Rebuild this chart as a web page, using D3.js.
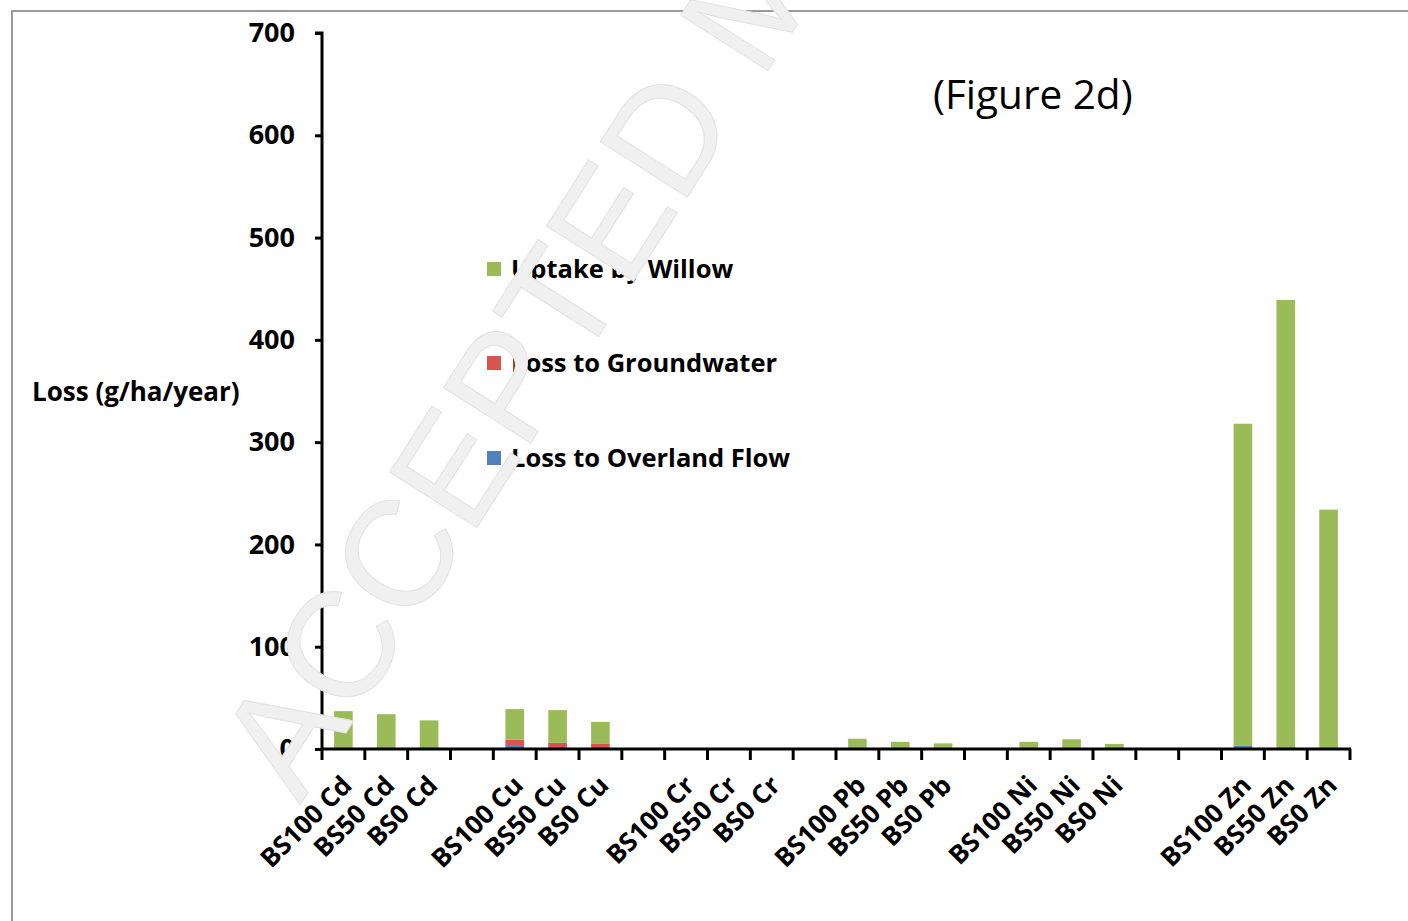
<!DOCTYPE html>
<html><head><meta charset="utf-8">
<script src="https://cdn.jsdelivr.net/npm/d3@7"></script>
<style>body{margin:0;background:#fff}svg{display:block}</style>
</head><body>
<svg id="c" width="1408" height="921"></svg>
<script>
const categories = ["BS100 Cd","BS50 Cd","BS0 Cd","",
  "BS100 Cu","BS50 Cu","BS0 Cu","",
  "BS100 Cr","BS50 Cr","BS0 Cr","",
  "BS100 Pb","BS50 Pb","BS0 Pb","",
  "BS100 Ni","BS50 Ni","BS0 Ni","","",
  "BS100 Zn","BS50 Zn","BS0 Zn"];
const uptake      = [37,34,28,0, 30,32,21,0, 0,1,0,0, 10,7,5.5,0, 7,9.5,5,0,0, 315,439,234];
const groundwater = [0,0,0,0, 6,5,4.5,0, 0,0,0,0, 0,0,0,0, 0,0,0,0,0, 0,0,0];
const overland    = [0,0,0,0, 3,1,1,0, 0,0,0,0, 0,0,0,0, 0,0,0,0,0, 3,0,0];
const seriesNames = ["Uptake by Willow","Loss to Groundwater","Loss to Overland Flow"];
const seriesColors = ["#9BBB59","#D9534F","#4F81BD"];
const yTicks = [0,100,200,300,400,500,600,700];

const svg = d3.select("#c");
const FONT = "'Open Sans', Lato, sans-serif";

// outer border
svg.append("rect").attr("x",12).attr("y",11).attr("width",1420).attr("height",940)
  .attr("fill","none").attr("stroke","#9a9a9a").attr("stroke-width",2);

const x = d3.scaleBand().domain(d3.range(categories.length)).range([322,1350]).paddingInner(0.565).paddingOuter(0.2825);
const xb = d3.scaleBand().domain(d3.range(categories.length)).range([322,1350]);
const y = d3.scaleLinear().domain([0,700]).range([749,33]);

const rows = categories.map((c,i)=>({i, overland:overland[i], groundwater:groundwater[i], uptake:uptake[i]}));
const stack = d3.stack().keys(["overland","groundwater","uptake"])(rows);
const colorByKey = {uptake:seriesColors[0], groundwater:seriesColors[1], overland:seriesColors[2]};

svg.append("g").selectAll("g").data(stack).join("g")
  .attr("fill", d=>colorByKey[d.key])
  .selectAll("rect").data(d=>d).join("rect")
  .attr("x", d=>x(d.data.i))
  .attr("width", x.bandwidth())
  .attr("y", d=>y(d[1]))
  .attr("height", d=>Math.max(0, y(d[0])-y(d[1])));

// y axis
const yAxis = svg.append("g").attr("transform","translate(322,0)")
  .call(d3.axisLeft(y).tickValues(yTicks).tickSize(7).tickPadding(20));
yAxis.select(".domain").attr("stroke","#000").attr("stroke-width",3).attr("d","M-7,33H0V749");
yAxis.selectAll(".tick line").attr("stroke","#000").attr("stroke-width",3);
yAxis.selectAll(".tick text").attr("font-family",FONT).attr("font-weight","bold").attr("font-size",27).attr("fill","#000");

// x axis
const xAxis = svg.append("g").attr("transform","translate(0,749)");
xAxis.append("line").attr("x1",322).attr("x2",1351).attr("y1",0).attr("y2",0).attr("stroke","#000").attr("stroke-width",3);
const edges = d3.range(categories.length).map(i=>xb(i)+xb.bandwidth()).concat([322]);
xAxis.selectAll("line.t").data(edges).join("line").attr("class","t")
  .attr("x1",d=>d).attr("x2",d=>d).attr("y1",0).attr("y2",11).attr("stroke","#000").attr("stroke-width",3);
xAxis.selectAll("text").data(categories.map((c,i)=>({c,i})).filter(d=>d.c)).join("text")
  .attr("transform", d=>`translate(${xb(d.i)+xb.bandwidth()/2+10},${38}) rotate(-45)`)
  .attr("text-anchor","end").attr("font-family",FONT).attr("font-weight","bold")
  .attr("font-size",26).attr("fill","#000").text(d=>d.c);

// y title
svg.append("text").attr("x",32).attr("y",401).attr("font-family",FONT).attr("font-weight","bold")
  .attr("font-size",26).attr("fill","#000").text("Loss (g/ha/year)");

// figure label
svg.append("text").attr("x",933).attr("y",109).attr("font-family",FONT)
  .attr("font-size",40.5).attr("fill","#000").text("(Figure 2d)");

// legend
const legY = [269,363,458];
const leg = svg.append("g").selectAll("g").data(seriesNames).join("g")
  .attr("transform",(d,i)=>`translate(487,${legY[i]})`);
leg.append("rect").attr("x",0).attr("y",-7).attr("width",14).attr("height",14).attr("fill",(d,i)=>seriesColors[i]);
leg.append("text").attr("x",24).attr("y",9).attr("font-family",FONT).attr("font-weight","bold")
  .attr("font-size",25.5).attr("fill","#000").text(d=>d);

// watermark
svg.append("text").attr("transform","translate(300,805) rotate(-57.5)")
  .attr("font-family","'Liberation Sans', Arial, sans-serif").attr("font-size",150)
  .attr("fill","#f0f0f0").attr("stroke","#e2e2e2").attr("stroke-width",1)
  .text("ACCEPTED MANUSCRIPT");
</script>
</body></html>
